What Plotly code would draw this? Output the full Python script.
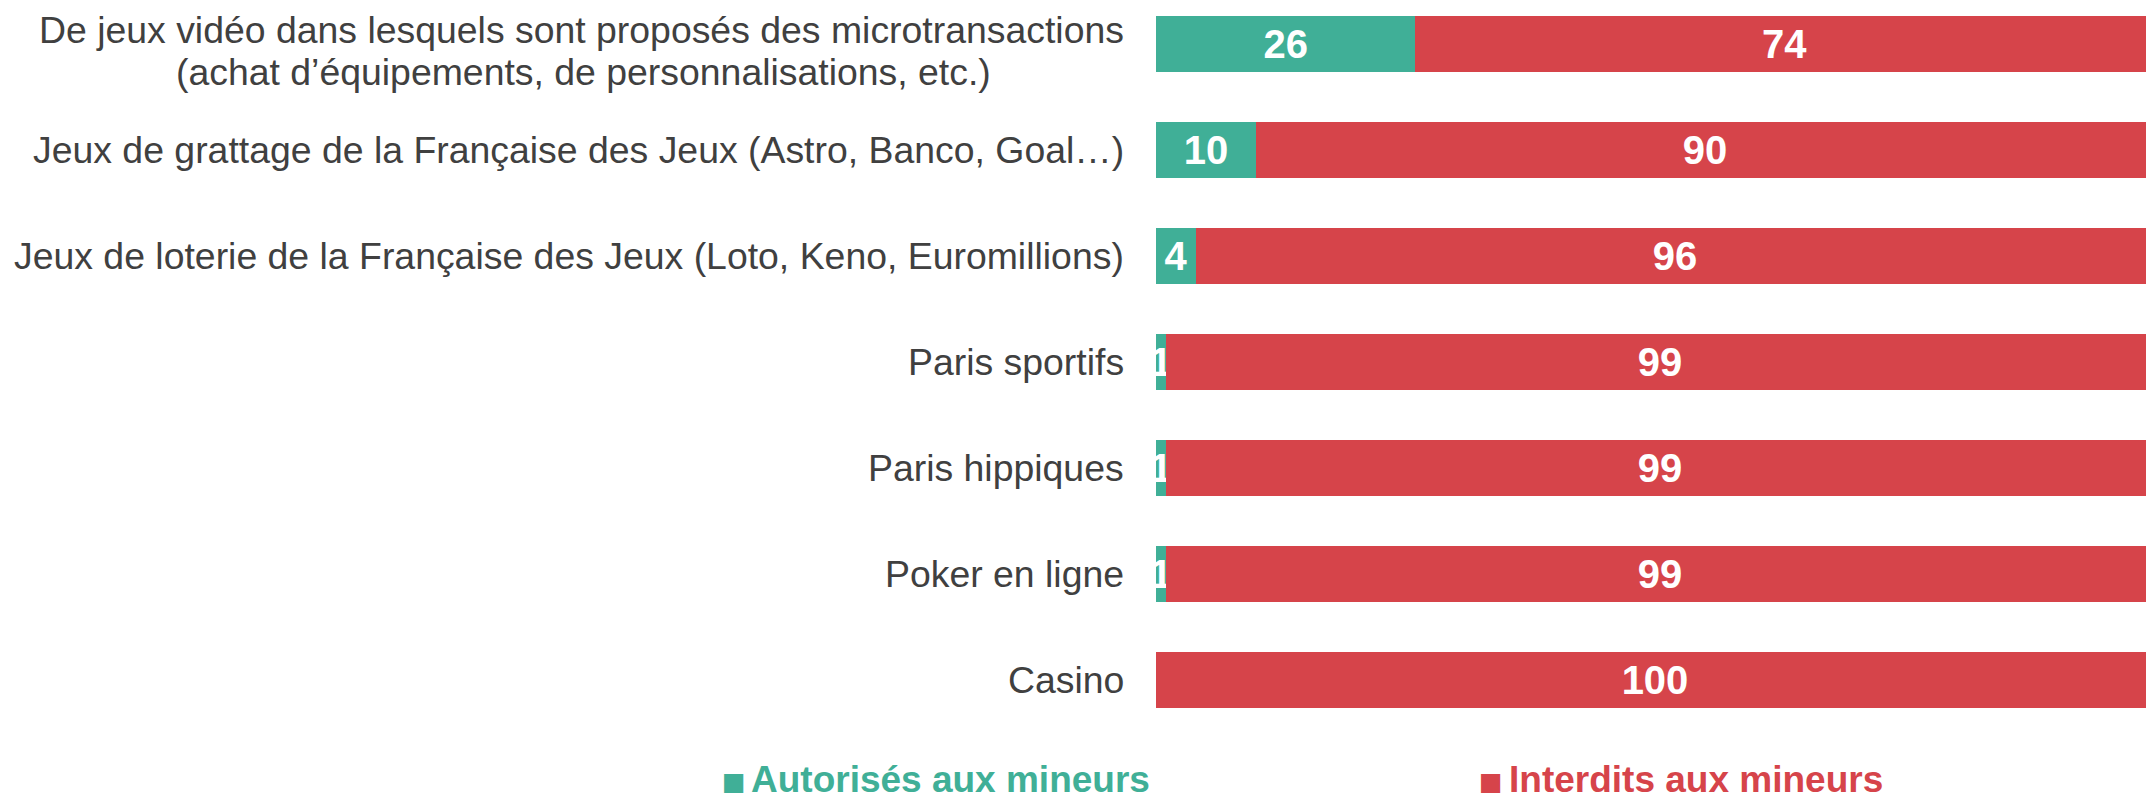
import plotly.graph_objects as go

categories = [
    "De jeux vidéo dans lesquels sont proposés des microtransactions<br>(achat d’équipements, de personnalisations, etc.)",
    "Jeux de grattage de la Française des Jeux (Astro, Banco, Goal…)",
    "Jeux de loterie de la Française des Jeux (Loto, Keno, Euromillions)",
    "Paris sportifs",
    "Paris hippiques",
    "Poker en ligne",
    "Casino",
]
autorises = [26, 10, 4, 1, 1, 1, 0]
interdits = [74, 90, 96, 99, 99, 99, 100]
series_names = ["Autorisés aux mineurs", "Interdits aux mineurs"]

GREEN = "#40AF97"
RED = "#D6444A"
FONT = "Liberation Sans, Arial, sans-serif"
LABEL_SIZE = 37.4

ids = list(range(len(categories)))

fig = go.Figure()
for name, vals, col in [(series_names[0], autorises, GREEN), (series_names[1], interdits, RED)]:
    fig.add_trace(go.Bar(
        y=ids, x=vals, orientation="h",
        name=name,
        marker=dict(color=col, line=dict(width=0)),
        text=[str(v) if v > 0 else "" for v in vals],
        textposition="inside", insidetextanchor="middle",
        constraintext="none",
        textfont=dict(family=FONT, size=40, color="white", weight="bold"),
        width=0.52,
        showlegend=False,
    ))

LABEL_RIGHT = -0.030      # paper x of the right edge of category labels
MULTI_CENTER = -0.5737    # paper x of the centre of multi-line labels
LINE_STEP = 42            # px between lines of a multi-line label
for i, c in enumerate(categories):
    lines = c.split("<br>")
    n = len(lines)
    for k, line in enumerate(lines):
        if n == 1:
            xpos, xanc, shift = LABEL_RIGHT, "right", 0
        else:
            shift = (n - 1) / 2 * LINE_STEP - k * LINE_STEP - 7
            xpos, xanc = (LABEL_RIGHT, "right") if k == 0 else (MULTI_CENTER, "center")
        fig.add_annotation(
            x=xpos, xref="paper", y=i, yref="y", yshift=shift,
            text=line, showarrow=False, xanchor=xanc, yanchor="middle",
            font=dict(family=FONT, size=LABEL_SIZE, color="#404040"),
        )

# legend drawn as text entries (key square + label)
for name, col, xkey, xtxt in [(series_names[0], GREEN, -0.4233, -0.4078),
                              (series_names[1], RED, 0.3352, 0.3517)]:
    fig.add_annotation(
        x=xkey, xref="paper", y=-0.0573, yref="paper",
        text="■", showarrow=False, xanchor="center", yanchor="middle",
        font=dict(family="DejaVu Sans", size=25, color=col),
    )
    fig.add_annotation(
        x=xtxt, xref="paper", y=-0.0540, yref="paper",
        text=f"<b>{name}</b>", showarrow=False, xanchor="left", yanchor="middle",
        font=dict(family=FONT, size=37, color=col),
    )

fig.update_layout(
    width=2146, height=792,
    barmode="stack",
    plot_bgcolor="white", paper_bgcolor="white",
    margin=dict(l=1148, r=0, t=0, b=60),
    xaxis=dict(range=[0, 100], visible=False, fixedrange=True),
    yaxis=dict(range=[6.566, -0.340], visible=False, fixedrange=True),
    showlegend=False,
)

fig.write_html("out.html")
